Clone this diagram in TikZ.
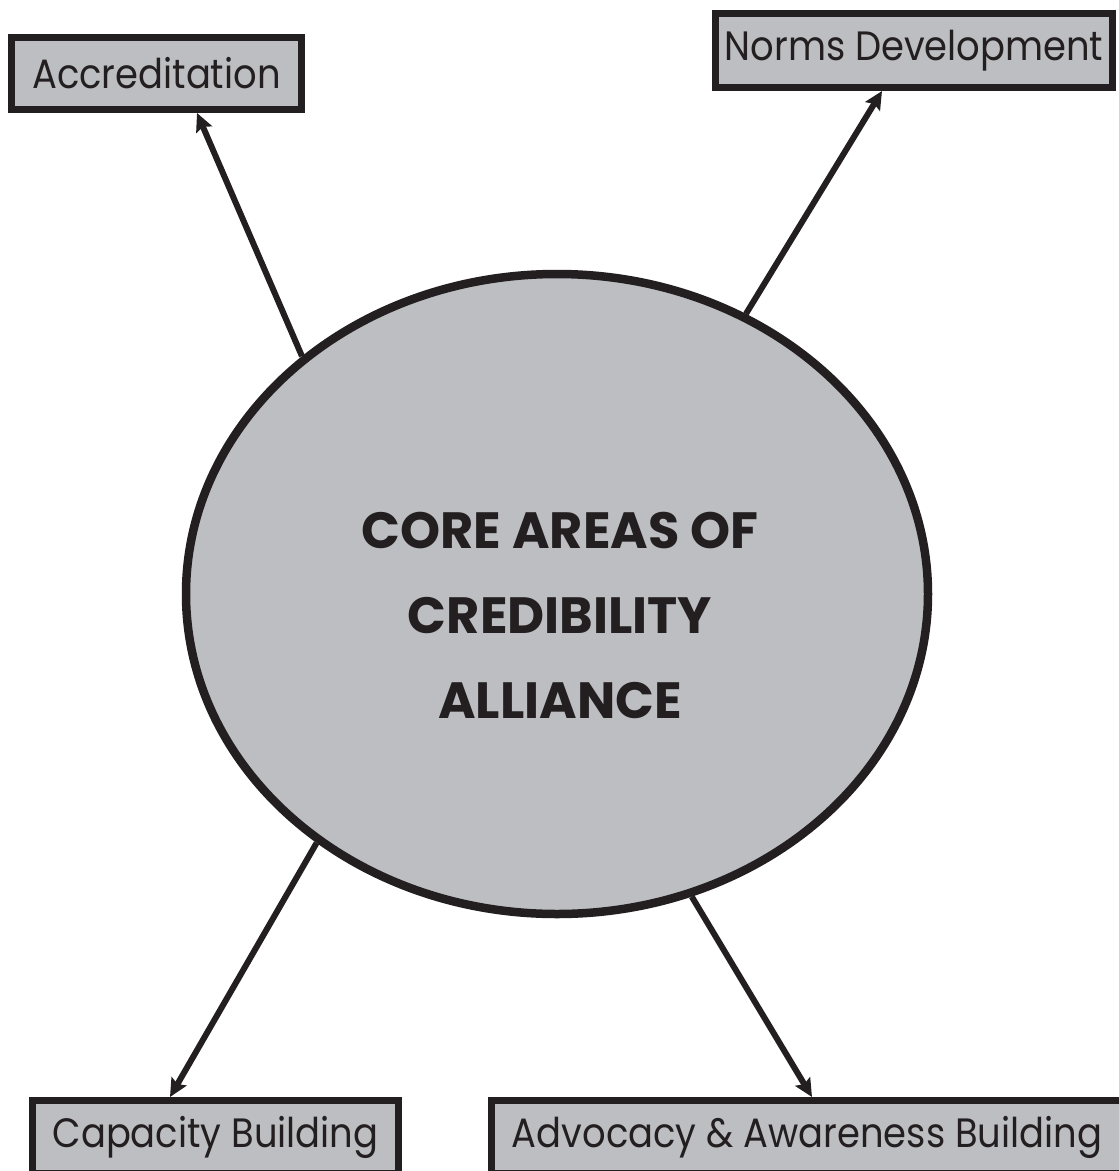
\documentclass[tikz,border=0pt]{standalone}
\usepackage{fontspec}
\setmainfont{Poppins}
\newfontfamily\boxfont[FakeStretch=0.9]{Poppins}
\usetikzlibrary{arrows.meta,shapes.geometric}
\definecolor{boxgray}{RGB}{189,190,194}
\definecolor{ink}{RGB}{35,31,32}
\begin{document}
\begin{tikzpicture}[x=1pt,y=-1pt,
  box/.style={draw=ink,fill=boxgray,line width=7pt,inner sep=0pt,text=ink,
    font=\boxfont\fontsize{41}{41}\selectfont},
  arr/.style={draw=ink,line width=6pt,-{Stealth[length=18pt,width=17pt,inset=3pt]}}]
\useasboundingbox (0,0) rectangle (1119,1171);
\node[ellipse,draw=ink,fill=boxgray,line width=8.5pt,inner sep=0pt,
  minimum width=742pt,minimum height=640pt] (core) at (557,594) {};
\node[text=ink,align=center,font=\fontsize{51}{85}\selectfont\bfseries] (title) at (560,615)
  {CORE AREAS OF\\CREDIBILITY\\ALLIANCE};
\node[box,minimum width=290pt,minimum height=72pt] (acc) at (156.5,73.5) {Accreditation};
\node[box,minimum width=397pt,minimum height=74pt] (norms) at (914,50.5) {Norms Development};
\node[box,minimum width=366pt,minimum height=73pt] (cap) at (215.5,1137) {Capacity Building};
\node[box,minimum width=631pt,minimum height=73pt] (adv) at (807,1137) {Advocacy \& Awareness Building};
\draw[arr] (core.137.6) -- ([xshift=40.5pt]acc.south);
\draw[arr] (core.56.5) -- ([xshift=-32pt]norms.south);
\draw[arr] (core.226.5) -- ([xshift=-45.5pt]cap.north);
\draw[arr] (core.294.2) -- ([xshift=5pt]adv.north);
\end{tikzpicture}
\end{document}
